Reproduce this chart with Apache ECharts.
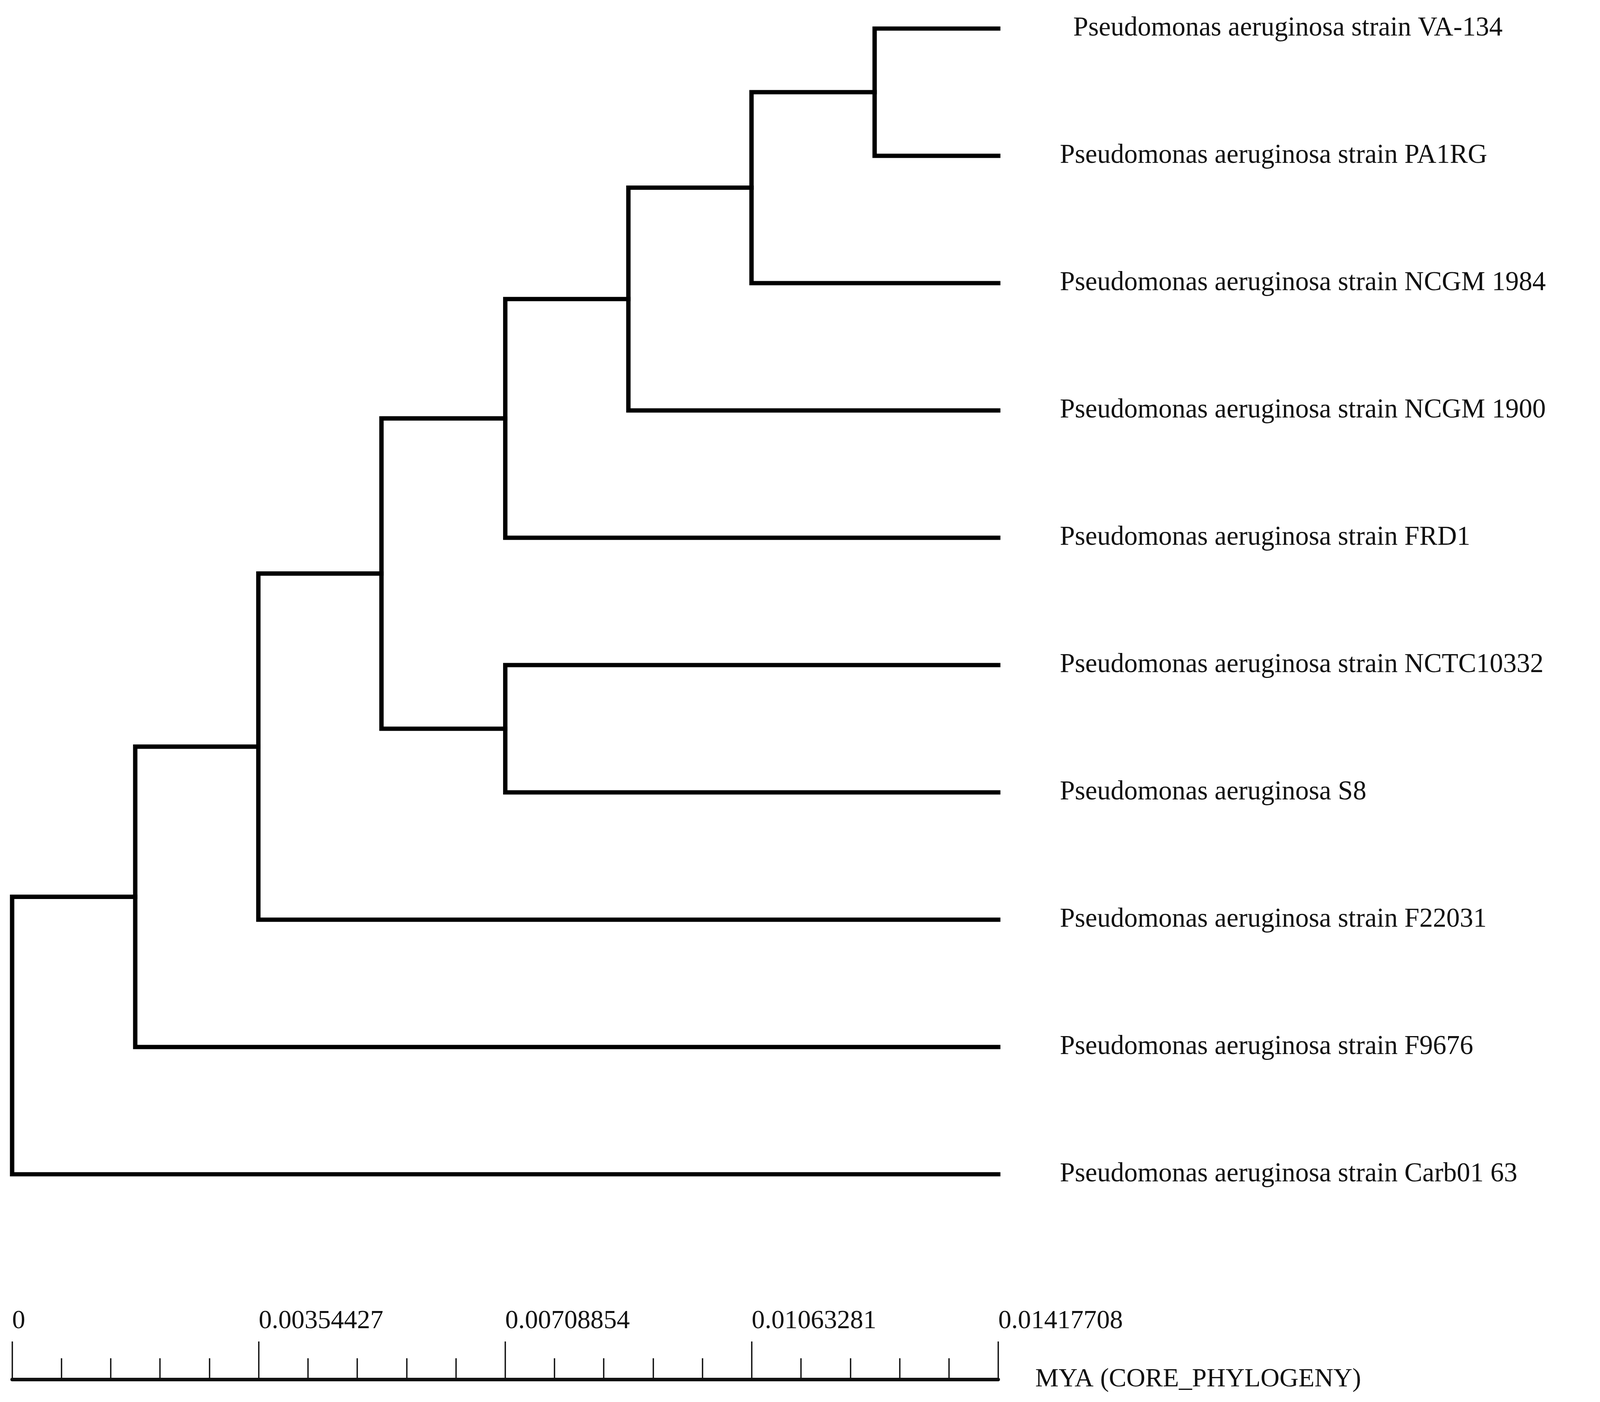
<!DOCTYPE html>
<html>
<head>
<meta charset="utf-8">
<title>Core phylogeny</title>
<script src="https://cdn.jsdelivr.net/npm/echarts@6/dist/echarts.min.js"></script>
<style>
  html, body { margin: 0; padding: 0; background: #fff; overflow: hidden; width: 100%; height: 100%; }
  #main { width: 100vw; height: 100vh; }
</style>
</head>
<body>
<div id="main"></div>
<script>
// leaves, top to bottom
var leafNames = [
  'Pseudomonas aeruginosa strain VA-134',
  'Pseudomonas aeruginosa strain PA1RG',
  'Pseudomonas aeruginosa strain NCGM 1984',
  'Pseudomonas aeruginosa strain NCGM 1900',
  'Pseudomonas aeruginosa strain FRD1',
  'Pseudomonas aeruginosa strain NCTC10332',
  'Pseudomonas aeruginosa S8',
  'Pseudomonas aeruginosa strain F22031',
  'Pseudomonas aeruginosa strain F9676',
  'Pseudomonas aeruginosa strain Carb01 63'
];
var tipDepth = 0.01417708;

// internal nodes: depth from root and two children (L = leaf, N = node), upper child first
var nodeDepth = [0, 0.00177, 0.00354, 0.00531, 0.00709, 0.00886, 0.01063, 0.01240, 0.00709];
var nodeChildren = [
  ['N1', 'L9'],
  ['N2', 'L8'],
  ['N3', 'L7'],
  ['N4', 'N8'],
  ['N5', 'L4'],
  ['N6', 'L3'],
  ['N7', 'L2'],
  ['L0', 'L1'],
  ['L5', 'L6']
];

// scale bar
var tickStep = 0.00354427;
var tickLabels = ['0', '0.00354427', '0.00708854', '0.01063281', '0.01417708'];
var scaleName = 'MYA (CORE_PHYLOGENY)';

function refIndex(ref) { return parseInt(ref.substring(1), 10); }

function yOf(ref) {
  var i = refIndex(ref);
  if (ref.charAt(0) == 'L') return i;
  return (yOf(nodeChildren[i][0]) + yOf(nodeChildren[i][1])) / 2;
}

function xOf(ref) {
  if (ref.charAt(0) == 'L') return tipDepth;
  return nodeDepth[refIndex(ref)];
}

// one bracket per internal node
var brackets = [];
for (var i = 0; i < nodeChildren.length; i++) {
  var a = nodeChildren[i][0], b = nodeChildren[i][1];
  var d = nodeDepth[i];
  brackets.push({
    coords: [[xOf(a), yOf(a)], [d, yOf(a)], [d, yOf(b)], [xOf(b), yOf(b)]]
  });
}

var dom = document.getElementById('main');
var chart = echarts.init(dom);

// layout was measured on a 4754 x 3590 figure, scale it to the real window
var W = dom.clientWidth, H = dom.clientHeight;
var sx = W / 4754, sy = H / 3590, s = Math.min(sx, sy);

var font = '"Liberation Serif", "Times New Roman", serif';

var option = {
  backgroundColor: '#ffffff',
  animation: false,
  grid: { left: 36 * sx, right: 1788 * sx, top: 73 * sy, bottom: 583 * sy },
  xAxis: {
    type: 'value',
    min: 0,
    max: tipDepth,
    interval: tickStep,
    position: 'bottom',
    offset: 525 * sy,
    splitLine: { show: false },
    axisLine: { show: true, onZero: false, lineStyle: { color: '#111', width: 9 * sy } },
    axisTick: { show: true, inside: true, length: 97 * sy, lineStyle: { color: '#111', width: 4 * sx } },
    minorTick: { show: true, splitNumber: 5, length: 54 * sy, lineStyle: { color: '#111', width: 4 * sx } },
    axisLabel: {
      inside: true,
      margin: 115 * sy,
      align: 'left',
      fontFamily: font,
      fontSize: 78 * s,
      color: '#111',
      formatter: function(v) {
        return tickLabels[Math.round(v / tickStep)];
      }
    },
    name: scaleName,
    nameLocation: 'end',
    nameGap: 110 * sx,
    nameTextStyle: {
      fontFamily: font,
      fontSize: 78 * s,
      color: '#111',
      align: 'left',
      verticalAlign: 'middle',
      padding: [0, 0, 30 * sy, 0]
    }
  },
  yAxis: [{
    type: 'value',
    min: 0,
    max: leafNames.length - 1,
    inverse: true,
    show: false
  }, {
    type: 'category',
    data: leafNames.map(function(n, i) {
      return i == 0 ? { value: n, textStyle: { padding: [0, 0, 0, 40 * sx] } } : n;
    }),
    inverse: true,
    boundaryGap: false,
    position: 'right',
    axisLine: { show: false },
    axisTick: { show: false },
    splitLine: { show: false },
    axisLabel: {
      margin: 183 * sx,
      fontFamily: font,
      fontSize: 80 * s,
      color: '#111',
      interval: 0
    }
  }],
  series: [{
    type: 'lines',
    coordinateSystem: 'cartesian2d',
    xAxisIndex: 0,
    yAxisIndex: 0,
    polyline: true,
    silent: true,
    lineStyle: { color: '#000', width: 13 * s, opacity: 1, join: 'miter', cap: 'square' },
    data: brackets
  }]
};

chart.setOption(option);
</script>
</body>
</html>
